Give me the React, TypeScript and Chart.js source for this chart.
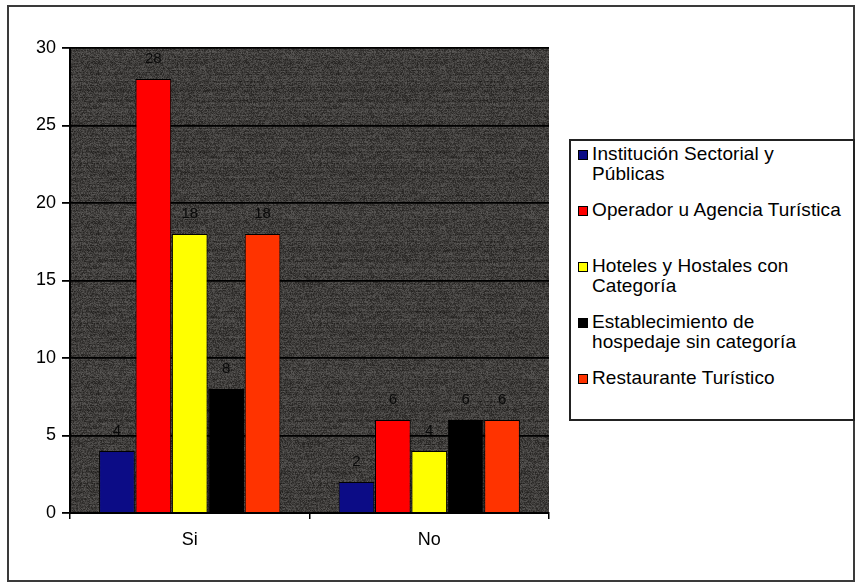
import { useEffect, useRef } from 'react';
import { Chart, registerables } from 'chart.js';

Chart.register(...registerables);

const categories = ['Si', 'No'];
const seriesNames = [
  'Institución Sectorial y\nPúblicas',
  'Operador u Agencia Turística',
  'Hoteles y Hostales con\nCategoría',
  'Establecimiento de\nhospedaje sin categoría',
  'Restaurante Turístico',
];
const institucion = [4, 2];
const operador = [28, 6];
const hoteles = [18, 4];
const establecimiento = [8, 6];
const restaurante = [18, 6];
const seriesValues = [institucion, operador, hoteles, establecimiento, restaurante];
const seriesColors = ['#0c0c86', '#ff0000', '#ffff00', '#000000', '#ff3300'];
const yMin = 0;
const yMax = 30;
const yStep = 5;

const FONT = '"Liberation Sans", Arial, sans-serif';

function makeTexture(): HTMLCanvasElement {
  const w = 240;
  const h = 160;
  const c = document.createElement('canvas');
  c.width = w;
  c.height = h;
  const ctx = c.getContext('2d')!;
  const img = ctx.createImageData(w, h);
  const hash = (x: number, y: number) => {
    let n = Math.imul(x, 374761393) + Math.imul(y, 668265263);
    n = Math.imul(n ^ (n >>> 13), 1274126177);
    n = n ^ (n >>> 16);
    return ((n >>> 0) % 1000) / 1000;
  };
  for (let y = 0; y < h; y++) {
    const rowShift = (hash(7, y) - 0.5) * 14;
    for (let x = 0; x < w; x++) {
      const seg = (hash(Math.floor(x / 9), y * 3 + 1) - 0.5) * 10;
      const n = (hash(x, y) - 0.5) * 44;
      const v = Math.max(20, Math.min(120, 60 + n + rowShift + seg));
      const i = (y * w + x) * 4;
      img.data[i] = v + 2;
      img.data[i + 1] = v;
      img.data[i + 2] = v - 2;
      img.data[i + 3] = 255;
    }
  }
  ctx.putImageData(img, 0, 0);
  return c;
}

export default function App() {
  const canvasRef = useRef<HTMLCanvasElement | null>(null);

  useEffect(() => {
    const canvas = canvasRef.current;
    if (!canvas) return;
    const texture = makeTexture();

    const bgPlugin = {
      id: 'texturedBg',
      beforeDraw(chart: any) {
        const { ctx, chartArea } = chart;
        const pat = ctx.createPattern(texture, 'repeat');
        ctx.save();
        ctx.fillStyle = pat || '#3c3a38';
        ctx.fillRect(chartArea.left, chartArea.top, chartArea.right - chartArea.left, chartArea.bottom - chartArea.top);
        ctx.restore();
      },
    };

    const valueLabels = {
      id: 'valueLabels',
      afterDatasetsDraw(chart: any) {
        const { ctx } = chart;
        ctx.save();
        ctx.font = `15px ${FONT}`;
        ctx.fillStyle = '#0a0a0a';
        ctx.textAlign = 'center';
        ctx.textBaseline = 'middle';
        chart.data.datasets.forEach((ds: any, di: number) => {
          const meta = chart.getDatasetMeta(di);
          meta.data.forEach((bar: any, i: number) => {
            ctx.fillText(String(ds.data[i]), bar.x, bar.y - 20);
          });
        });
        ctx.restore();
      },
    };

    const chart = new Chart(canvas, {
      type: 'bar',
      data: {
        labels: categories,
        datasets: seriesNames.map((name, i) => ({
          label: name.replace('\n', ' '),
          data: seriesValues[i],
          backgroundColor: seriesColors[i],
          borderColor: '#000',
          borderWidth: 1,
          categoryPercentage: 0.76,
          barPercentage: 0.98,
        })),
      },
      options: {
        responsive: false,
        animation: false,
        layout: { padding: { left: 0, top: 48, right: 307, bottom: 20 } },
        plugins: {
          legend: { display: false },
          tooltip: { enabled: false },
        },
        scales: {
          x: {
            afterFit: (s: any) => {
              s.height = 50;
            },
            grid: {
              display: true,
              drawOnChartArea: false,
              offset: true,
              tickLength: 6,
              color: '#000',
              lineWidth: 1.5,
            },
            border: { color: '#000', width: 2 },
            ticks: { color: '#000', font: { family: FONT, size: 18 }, padding: 10 },
          },
          y: {
            min: yMin,
            max: yMax,
            afterFit: (s: any) => {
              s.width = 70;
            },
            grid: {
              color: '#000',
              lineWidth: 1.8,
              tickLength: 8,
            },
            border: { color: '#000', width: 2 },
            ticks: {
              stepSize: yStep,
              color: '#000',
              font: { family: FONT, size: 18 },
              padding: 6,
            },
          },
        },
      },
      plugins: [bgPlugin, valueLabels],
    });
    return () => chart.destroy();
  }, []);

  return (
    <div style={{ position: 'absolute', left: 0, top: 0, width: 856, height: 583, background: '#fff' }}>
      <div
        style={{
          position: 'absolute',
          left: 7,
          top: 5,
          width: 848,
          height: 577,
          border: '2px solid #3a3a3a',
          boxSizing: 'border-box',
        }}
      />
      <canvas ref={canvasRef} width={856} height={583} style={{ position: 'absolute', left: 0, top: 0 }} />
      <div
        style={{
          position: 'absolute',
          left: 569,
          top: 139,
          width: 286,
          height: 282,
          border: '2px solid #222',
          boxSizing: 'border-box',
          background: '#fff',
          fontFamily: FONT,
          fontSize: 19,
          lineHeight: '20px',
          color: '#000',
          paddingTop: 3,
        }}
      >
        {seriesNames.map((name, i) => (
          <div key={i} style={{ display: 'flex', alignItems: 'flex-start', height: 56, paddingLeft: 7 }}>
            <div
              style={{
                width: 8,
                height: 8,
                marginTop: 6,
                marginRight: 4,
                background: seriesColors[i],
                border: '1px solid #000',
                flex: 'none',
              }}
            />
            <div style={{ whiteSpace: 'pre-line', letterSpacing: '0.1px' }}>{name}</div>
          </div>
        ))}
      </div>
    </div>
  );
}
